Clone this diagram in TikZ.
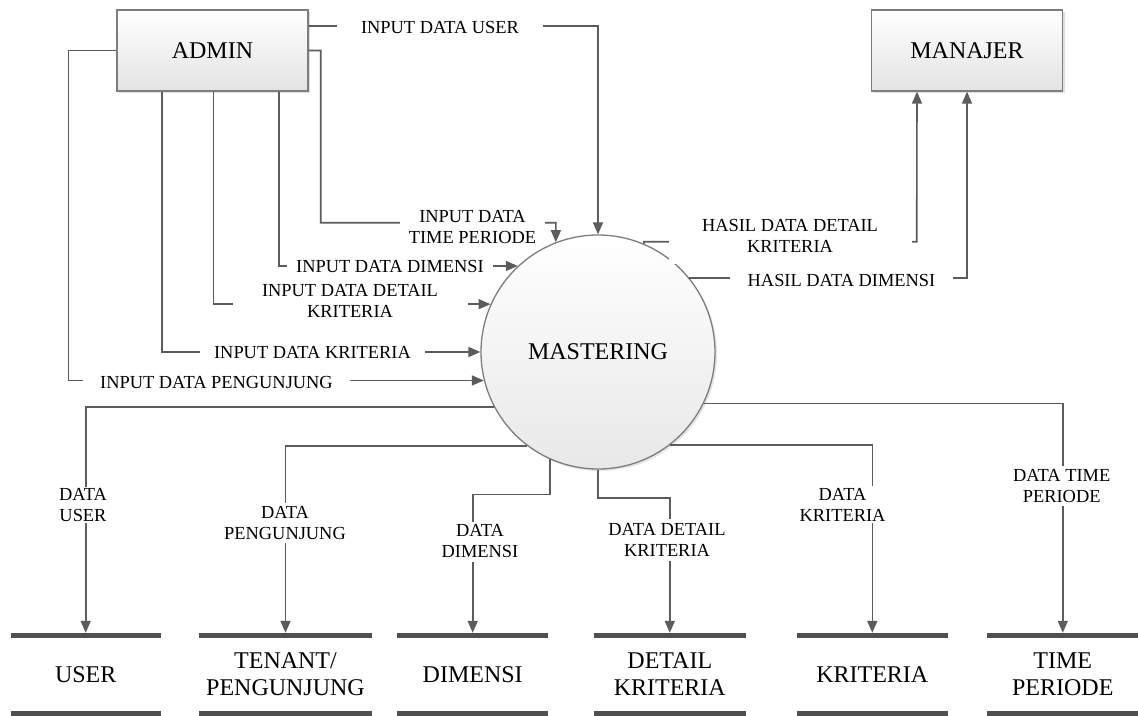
\documentclass[tikz,border=0pt]{standalone}
\usepackage{fontspec}
\setmainfont{Liberation Serif}
\usetikzlibrary{arrows.meta,shadows}
\definecolor{ln}{RGB}{92,92,92}
\definecolor{bd}{RGB}{125,125,125}
\definecolor{barc}{RGB}{80,80,80}
\begin{document}
\begin{tikzpicture}[x=1pt,y=-1pt,
  flow/.style={draw=ln, line width=1.6pt, -{Triangle[length=12pt,width=10pt]}},
  entity/.style={draw=bd, line width=1.3pt, top color=white, bottom color=gray!22,
    minimum width=191pt, minimum height=81pt, inner sep=0pt,
    font=\fontsize{24}{27}\selectfont,
    drop shadow={shadow xshift=2pt,shadow yshift=-2pt,opacity=0.25}},
  proc/.style={circle, draw=bd, line width=1.3pt, minimum size=234pt, inner sep=0pt,
    top color=white, bottom color=gray!18,
    font=\fontsize{24}{27}\selectfont,
    drop shadow={shadow xshift=2pt,shadow yshift=-2pt,opacity=0.2}},
  store/.style={minimum height=82.5pt, inner sep=0pt, align=center,
    font=\fontsize{24}{27}\selectfont},
  bar/.style={draw=barc, line width=4.8pt},
  lbl/.style={fill=white, inner sep=0pt, align=center,
    font=\fontsize{18.4}{21}\selectfont}]
\useasboundingbox (0,0) rectangle (1138,715);
\fill[white] (0,0) rectangle (1138,715);

% entities and process
\node[entity] (admin) at (212.5,50.5) {ADMIN};
\node[entity] (manajer) at (967,50.5) {MANAJER};
\node[proc] (mastering) at (598,352) {MASTERING};

% data stores
\node[store, minimum width=150pt] (user) at (85.7,674.25) {USER};
\node[store, minimum width=173pt] (tenant) at (285.5,674.25) {TENANT/\\PENGUNJUNG};
\node[store, minimum width=151pt] (dimensi) at (472.7,674.25) {DIMENSI};
\node[store, minimum width=151pt] (detail) at (669.8,674.25) {DETAIL\\KRITERIA};
\node[store, minimum width=151pt] (kriteria) at (872.3,674.25) {KRITERIA};
\node[store, minimum width=151pt] (time) at (1062.8,674.25) {TIME\\PERIODE};
\foreach \s in {user,tenant,dimensi,detail,kriteria,time}{
  \draw[bar] ([yshift=-2.4pt]\s.north west) -- ([yshift=-2.4pt]\s.north east);
  \draw[bar] ([yshift=2.4pt]\s.south west) -- ([yshift=2.4pt]\s.south east);
}

% inputs from ADMIN
\draw[flow] ([yshift=24.5pt]admin.east) -| (mastering.north);
\draw[flow] (admin.east) -- (320.7,50.5) |- (555.9,222.7) -- (mastering.111);
\draw[flow] ([xshift=66.2pt]admin.south) |- (mastering.133);
\draw[flow] ([xshift=0.8pt]admin.south) |- (mastering.156);
\draw[flow] ([xshift=-50.8pt]admin.south) |- (mastering.west);
\draw[flow] (admin.west) -- (68.3,50.5) |- (mastering.194);

% outputs to MANAJER
\draw[flow] (mastering.67) |- (916.7,241.7) -- ([xshift=-50pt]manajer.south);
\draw[flow] (mastering.39) -| (manajer.south);

% outputs to stores
\draw[flow] (mastering.208) -| (user.north);
\draw[flow] (mastering.233) -| (tenant.north);
\draw[flow] (mastering.246) |- (500,494.3) -| (dimensi.north);
\draw[flow] (mastering.south) |- (640,497.7) -| (detail.north);
\draw[flow] (mastering.308) -| (kriteria.north);
\draw[flow] (mastering.334) -| (time.north);

% labels
\node[lbl, minimum width=206pt] (l1) at (440,27.5) {INPUT DATA USER};
\node[lbl, minimum width=145pt] (l2) at (472.5,227) {INPUT DATA\\TIME PERIODE};
\node[lbl, minimum width=206pt] (l3) at (390,266) {INPUT DATA DIMENSI};
\node[lbl, minimum width=235pt] (l4) at (350,301) {INPUT DATA DETAIL\\KRITERIA};
\node[lbl, minimum width=225pt] (l5) at (312.5,352.5) {INPUT DATA KRITERIA};
\node[lbl, minimum width=267pt] (l6) at (216.5,382) {INPUT DATA PENGUNJUNG};
\node[lbl, minimum width=243pt, minimum height=56pt] (l7) at (790,236) {HASIL DATA DETAIL\\KRITERIA};
\node[lbl, minimum width=223pt] (l8) at (841.5,280) {HASIL DATA DIMENSI};
\node[lbl, minimum height=36pt] (l9) at (83,505) {DATA\\USER};
\node[lbl, minimum height=40pt] (l10) at (285,523) {DATA\\PENGUNJUNG};
\node[lbl, minimum height=40pt] (l11) at (480,541.5) {DATA\\DIMENSI};
\node[lbl, minimum height=42pt] (l12) at (667,540) {DATA DETAIL\\KRITERIA};
\node[lbl, minimum height=37pt] (l13) at (842.5,504.7) {DATA\\KRITERIA};
\node[lbl, minimum height=40pt] (l14) at (1061.7,486) {DATA TIME\\PERIODE};
\end{tikzpicture}
\end{document}
